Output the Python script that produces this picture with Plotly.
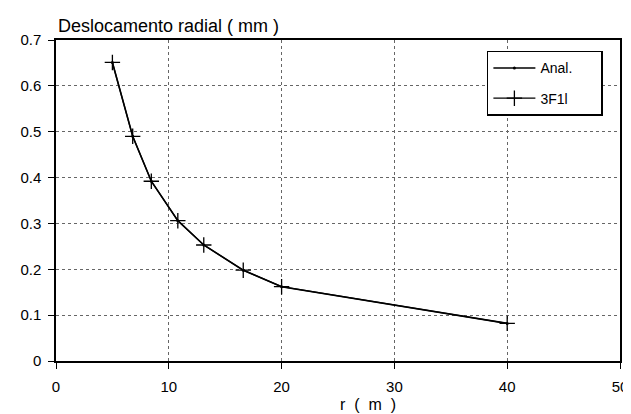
import plotly.graph_objects as go

# Data
r_m = [5.0, 6.8, 8.45, 10.8, 13.1, 16.6, 20.0, 40.0]
u_anal = [0.651, 0.490, 0.392, 0.306, 0.253, 0.198, 0.162, 0.082]
u_3f1l = [0.651, 0.490, 0.392, 0.306, 0.253, 0.198, 0.162, 0.082]
x_ticks = [0, 10, 20, 30, 40, 50]
y_ticks = [0, 0.1, 0.2, 0.3, 0.4, 0.5, 0.6, 0.7]
y_tick_text = ["0", "0.1", "0.2", "0.3", "0.4", "0.5", "0.6", "0.7"]

FONT = "Liberation Sans, Arial, sans-serif"
PAD = "\u00a0" * 6  # blank space so the legend box is as wide as the original

fig = go.Figure()
fig.add_trace(go.Scatter(
    x=r_m, y=u_anal, name="Anal." + PAD, mode="lines+markers",
    legendgroup="a",
    line=dict(color="black", width=1.6),
    marker=dict(symbol="circle", size=3, color="black"),
))
fig.add_trace(go.Scatter(
    x=r_m, y=u_3f1l, name="3F1l", mode="lines+markers",
    legendgroup="b",
    line=dict(color="black", width=1.3),
    marker=dict(symbol="cross-thin", size=11, color="black",
                line=dict(color="black", width=1.3)),
))

axis_common = dict(
    showline=True, linecolor="black", linewidth=1.5, mirror=True,
    ticks="outside", ticklen=6, tickcolor="black", tickwidth=1.2,
    showgrid=True, gridcolor="#666", gridwidth=1, griddash="dot",
    zeroline=False,
    tickfont=dict(family=FONT, size=15, color="black"),
)

fig.update_layout(
    width=631, height=414,
    margin=dict(l=48, r=11, t=32, b=61),
    paper_bgcolor="white", plot_bgcolor="white",
    font=dict(family=FONT, color="black"),
    showlegend=True,
    legend=dict(
        x=0.764, y=0.966, xanchor="left", yanchor="top",
        bgcolor="white", bordercolor="black", borderwidth=1.5,
        font=dict(family=FONT, size=14, color="black"),
        itemwidth=42, tracegroupgap=9,
    ),
    xaxis=dict(range=[0, 50], tickvals=x_ticks, ticklabelstandoff=5, **axis_common),
    yaxis=dict(range=[0, 0.7], tickvals=y_ticks, ticktext=y_tick_text,
               ticklabelstandoff=4, **axis_common),
    annotations=[
        dict(text="Deslocamento radial ( mm )", xref="paper", yref="paper",
             x=0.0, y=1.0436, xanchor="left", yanchor="middle", showarrow=False,
             font=dict(family=FONT, size=18, color="black")),
        dict(text="r  (  m  )", xref="paper", yref="paper",
             x=0.554, y=-0.136, xanchor="center", yanchor="middle", showarrow=False,
             font=dict(family=FONT, size=16, color="black")),
    ],
)

fig.write_html("out.html")
